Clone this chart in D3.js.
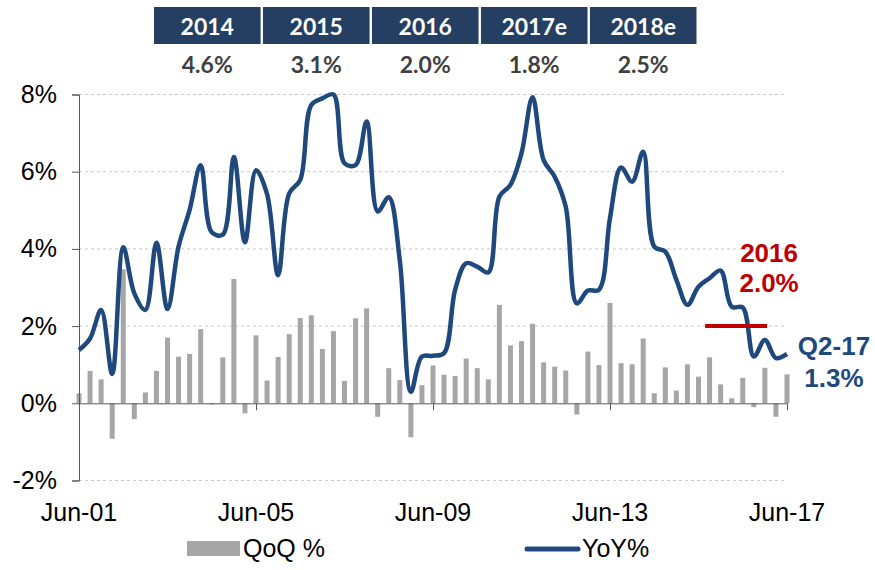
<!DOCTYPE html>
<html>
<head>
<meta charset="utf-8">
<script src="https://cdn.jsdelivr.net/npm/d3@7"></script>
<style>
  body { margin: 0; background: #fff; }
  svg { display: block; font-family: "Liberation Sans", Arial, sans-serif; }
  .tbl { font-family: Lato, "Open Sans", sans-serif; font-weight: bold; }
</style>
</head>
<body>
<script>
// quarterly data, Jun-01 .. Jun-17 (65 quarters)
const qoq = [0.26, 0.84, 0.62, -0.92, 3.47, -0.41, 0.28, 0.84, 1.70, 1.21,
             1.28, 1.92, -0.03, 1.19, 3.22, -0.26, 1.76, 0.59, 1.20, 1.79,
             2.21, 2.28, 1.41, 1.87, 0.58, 2.20, 2.46, -0.35, 0.91, 0.60,
             -0.88, 0.47, 0.98, 0.74, 0.71, 1.16, 0.91, 0.62, 2.55, 1.50,
             1.61, 2.06, 1.06, 0.95, 0.85, -0.29, 1.34, 0.99, 2.60, 1.04,
             1.01, 1.68, 0.26, 0.93, 0.33, 1.01, 0.69, 1.19, 0.49, 0.13,
             0.66, -0.10, 0.92, -0.35, 0.75];
const yoy = [1.38, 1.68, 2.42, 0.76, 4.04, 2.85, 2.42, 4.16, 2.44, 4.06,
             5.01, 6.17, 4.43, 4.37, 6.38, 4.17, 6.04, 5.42, 3.32, 5.44,
             5.79, 7.73, 7.90, 8.00, 6.22, 6.17, 7.30, 4.97, 5.34, 3.70,
             0.30, 1.21, 1.23, 1.30, 2.94, 3.63, 3.54, 3.39, 5.35, 5.66,
             6.48, 7.93, 6.30, 5.87, 5.09, 2.59, 2.92, 2.94, 4.80, 6.11,
             5.74, 6.52, 4.06, 3.93, 3.20, 2.55, 3.02, 3.24, 3.44, 2.50,
             2.48, 1.21, 1.64, 1.17, 1.28];

const tickIdx = [0, 16, 32, 48, 64];
const tickLabels = ["Jun-01", "Jun-05", "Jun-09", "Jun-13", "Jun-17"];
const yTicks = [-2, 0, 2, 4, 6, 8];

const tableYears = ["2014", "2015", "2016", "2017e", "2018e"];
const tableValues = ["4.6%", "3.1%", "2.0%", "1.8%", "2.5%"];

// 2016 average marker (quarter index range) and callouts
const avg2016 = { from: 56.6, to: 62.2, value: 2.0 };
const lastLabel = ["Q2-17", "1.3%"];
const avgLabel = ["2016", "2.0%"];

const NAVY = "#1F497D", GREY = "#A6A6A6", RED = "#C00000";

const svg = d3.select("body").append("svg")
    .attr("width", 875).attr("height", 570);

let x = d3.scaleLinear().domain([0, 64]).range([79, 787]);
let y = d3.scaleLinear().domain([-2, 8]).range([480.5, 94.5]);

// gridlines
svg.append("g").selectAll("line")
    .data(yTicks.filter(d => d != 0))
    .join("line")
    .attr("x1", x(0)).attr("x2", x(64))
    .attr("y1", d => y(d)).attr("y2", d => y(d))
    .attr("stroke", "#C8C8C8").attr("stroke-width", 1)
    .attr("stroke-dasharray", "3,3");

// bars
const bw = 5;
svg.append("g").selectAll("rect")
    .data(qoq)
    .join("rect")
    .attr("x", (d, i) => x(i) - bw / 2)
    .attr("width", bw)
    .attr("y", d => y(Math.max(0, d)))
    .attr("height", d => Math.abs(y(d) - y(0)))
    .attr("fill", GREY);

// y axis
let yAxis = d3.axisLeft(y).tickValues(yTicks).tickSize(7).tickFormat(d => d + "%");
let gy = svg.append("g")
    .attr("transform", "translate(" + x(0) + ",0)")
    .call(yAxis);
gy.select(".domain").attr("stroke", "#595959");
gy.selectAll(".tick line").attr("stroke", "#595959");
gy.selectAll(".tick text")
    .attr("x", -22)
    .attr("font-size", 25)
    .attr("fill", "#000")
    .attr("font-family", "Liberation Sans, Arial, sans-serif");

// x axis at zero, labels at bottom
let xAxis = d3.axisBottom(x).tickValues(tickIdx).tickSize(7).tickFormat(() => "");
let gx = svg.append("g")
    .attr("transform", "translate(0," + y(0) + ")")
    .call(xAxis);
gx.select(".domain").attr("stroke", "#595959").attr("d", "M" + x(0) + ",0.5H" + x(64));
gx.selectAll(".tick line").attr("stroke", "#595959");

svg.append("g").selectAll("text")
    .data(tickIdx)
    .join("text")
    .attr("x", d => x(d))
    .attr("y", 521)
    .attr("text-anchor", "middle")
    .attr("font-size", 25)
    .text((d, i) => tickLabels[i]);

// YoY line
let yoyLine = d3.line()
    .x((d, i) => x(i))
    .y(d => y(d))
    .curve(d3.curveCatmullRom.alpha(0.5));
svg.append("path")
    .attr("d", yoyLine(yoy))
    .attr("fill", "none")
    .attr("stroke", NAVY)
    .attr("stroke-width", 4.5)
    .attr("stroke-linejoin", "round");

// 2016 average
svg.append("line")
    .attr("x1", x(avg2016.from)).attr("x2", x(avg2016.to))
    .attr("y1", y(avg2016.value)).attr("y2", y(avg2016.value))
    .attr("stroke", RED).attr("stroke-width", 4);

svg.append("g").selectAll("text")
    .data(avgLabel)
    .join("text")
    .attr("x", x(avg2016.to) + 2)
    .attr("y", (d, i) => 262 + i * 30)
    .attr("text-anchor", "middle")
    .attr("font-size", 26)
    .attr("font-weight", "bold")
    .attr("fill", RED)
    .text(d => d);

svg.append("g").selectAll("text")
    .data(lastLabel)
    .join("text")
    .attr("x", x(64) + 47)
    .attr("y", (d, i) => 355 + i * 32)
    .attr("text-anchor", "middle")
    .attr("font-size", 26)
    .attr("font-weight", "bold")
    .attr("fill", NAVY)
    .text(d => d);

// annual table on top
let tx = d3.scaleBand().domain(tableYears).range([154, 696.5]).paddingInner(0.022);
let tbl = svg.append("g").attr("class", "tbl");
tbl.selectAll("rect")
    .data(tableYears)
    .join("rect")
    .attr("x", d => tx(d))
    .attr("y", 7)
    .attr("width", tx.bandwidth())
    .attr("height", 37)
    .attr("fill", "#243F62");
tbl.selectAll("text.yr")
    .data(tableYears)
    .join("text")
    .attr("class", "yr")
    .attr("x", d => tx(d) + tx.bandwidth() / 2)
    .attr("y", 35)
    .attr("text-anchor", "middle")
    .attr("font-size", 23)
    .attr("fill", "#fff")
    .text(d => d);
tbl.selectAll("text.val")
    .data(tableValues)
    .join("text")
    .attr("class", "val")
    .attr("x", (d, i) => tx(tableYears[i]) + tx.bandwidth() / 2)
    .attr("y", 73)
    .attr("text-anchor", "middle")
    .attr("font-size", 23)
    .attr("fill", "#404040")
    .text(d => d);

// legend
let lg = svg.append("g").attr("font-size", 25);
lg.append("rect")
    .attr("x", 187).attr("y", 541).attr("width", 53).attr("height", 15)
    .attr("fill", GREY);
lg.append("text").attr("x", 243).attr("y", 557).text("QoQ %");
lg.append("line")
    .attr("x1", 527).attr("x2", 578).attr("y1", 549).attr("y2", 549)
    .attr("stroke", NAVY).attr("stroke-width", 5).attr("stroke-linecap", "round");
lg.append("text").attr("x", 582).attr("y", 557).text("YoY%");
</script>
</body>
</html>
